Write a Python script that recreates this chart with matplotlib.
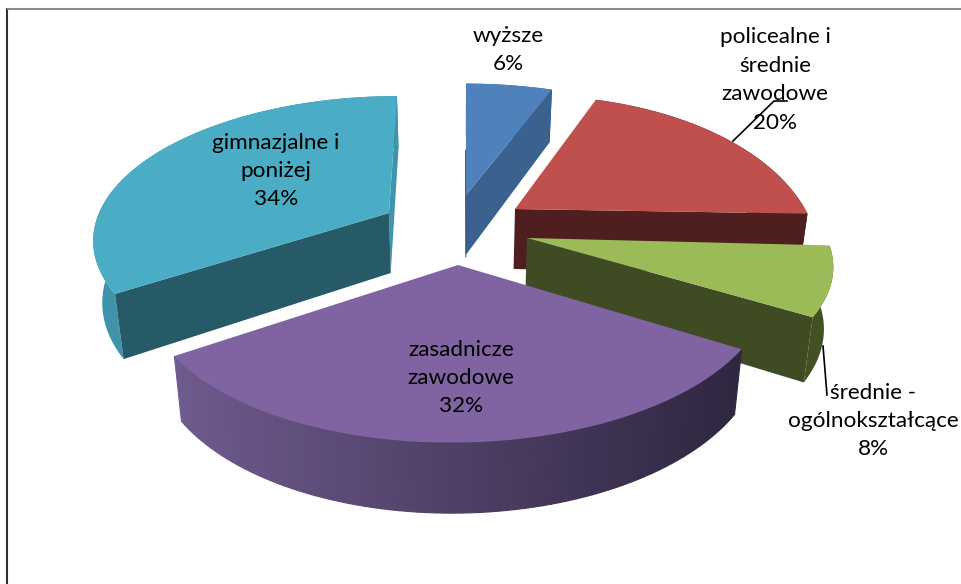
import numpy as np
import matplotlib
matplotlib.use('Agg')
import matplotlib.pyplot as plt
from matplotlib.patches import Polygon
from matplotlib.colors import to_rgb

plt.rcParams['font.family'] = ['Lato', 'DejaVu Sans']

categories = ['wyższe', 'policealne i\nśrednie\nzawodowe', 'średnie -\nogólnokształcące',
              'zasadnicze\nzawodowe', 'gimnazjalne i\nponiżej']
shares = [6, 20, 8, 32, 34]

top_colors = ['#4F81BD', '#C0504D', '#9BBB59', '#8064A2', '#4BACC6']
face_colors = ['#3B618F', '#4E1F1E', '#3F4B22', '#33294A', '#265A66']
rim_colors = ['#3B618F', '#4E1F1E', '#425023', None, '#3F93AA']

# apex x, apex y, radius x, radius y, perspective k, x shear, y tilt
slice_geom = [(466, 195, 303, 147, .32, 0, 0),
              (515, 209, 287, 151, .33, 0, -5),
              (527, 238, 299, 132, .217, 0, -1),
              (458, 265, 308, 150, .155, 0, -4),
              (389, 213, 290, 137, .172, 8, 0)]
label_xy = [(508, 50), (775, 80), (873, 421), (461, 378), (276, 171)]

fig = plt.figure(figsize=(9.61, 5.84), dpi=100)
ax = fig.add_axes([0, 0, 1, 1])
ax.set_xlim(0, 961)
ax.set_ylim(584, 0)
ax.axis('off')

# frame
ax.plot([7, 7], [8, 584], color='#303030', lw=1.5, solid_capstyle='butt')
ax.plot([7, 961], [9, 9], color='#8c8c8c', lw=1.5, solid_capstyle='butt')


def project(g, theta):
    x0, y0, a, b, k, s, tilt = g
    X, Y = np.sin(theta), np.cos(theta)
    w = 1 + k * Y
    return x0 + a * X / w + s * Y, y0 - b * Y / w + tilt * X


def drop(theta):
    return 60 / (1 + .15 * np.cos(theta))


def lower(x):
    # the walls lean in a little towards the middle of the pie
    return 458 + (x - 458) * .975


edges = np.radians(np.cumsum([0] + shares) * 3.6)

for i, (cat, g) in enumerate(zip(categories, slice_geom)):
    t = np.linspace(edges[i], edges[i + 1], 80)
    sx, sy = project(g, t)
    d = drop(t)
    bx = lower(sx)
    x0, y0 = g[0], g[1]

    # outer wall
    if i == 3:
        c0 = np.array(to_rgb('#6F5A8D'))
        c1 = np.array(to_rgb('#2F2640'))
        for j in range(len(t) - 1):
            f = (sx[j] - sx.min()) / (sx.max() - sx.min())
            quad = [(sx[j], sy[j]), (sx[j + 1], sy[j + 1]),
                    (bx[j + 1], sy[j + 1] + d[j + 1]), (bx[j], sy[j] + d[j])]
            ax.add_patch(Polygon(quad, fc=c0 + (c1 - c0) * f, ec=c0 + (c1 - c0) * f, lw=.8))
    else:
        wall = np.r_[np.c_[sx, sy], np.c_[bx, sy + d][::-1]]
        ax.add_patch(Polygon(wall, fc=rim_colors[i], ec='none'))

    # cut faces
    end_face = [(x0, y0), (sx[-1], sy[-1]), (bx[-1], sy[-1] + d[-1]), (lower(x0), y0 + 60)]
    start_face = [(x0, y0), (sx[0], sy[0]), (bx[0], sy[0] + d[0]), (lower(x0), y0 + 60)]
    if i in (0, 1, 2):
        ax.add_patch(Polygon(end_face, fc=face_colors[i], ec='none'))
    if i == 4:
        ax.add_patch(Polygon(end_face, fc=rim_colors[i], ec='none'))
        ax.add_patch(Polygon(start_face, fc=face_colors[i], ec='none'))

    # top
    ax.add_patch(Polygon(np.r_[[(x0, y0)], np.c_[sx, sy]], fc=top_colors[i], ec='none'))

# thin dark edge on the left of the blue slice
ax.plot([465.5, 465.8], [150, 257], color='#1F3A5C', lw=.6)

# leader lines
ax.plot([733, 774, 787], [141, 101, 101], color='black', lw=1.2)
ax.plot([823, 827], [346, 395], color='black', lw=1.2)

for cat, v, (lx, ly) in zip(categories, shares, label_xy):
    ax.text(lx, ly, '%s\n%d%%' % (cat, v), ha='center', va='center', fontsize=16.2,
            linespacing=1.53, color='black')

fig.savefig('out.png', dpi=100)
